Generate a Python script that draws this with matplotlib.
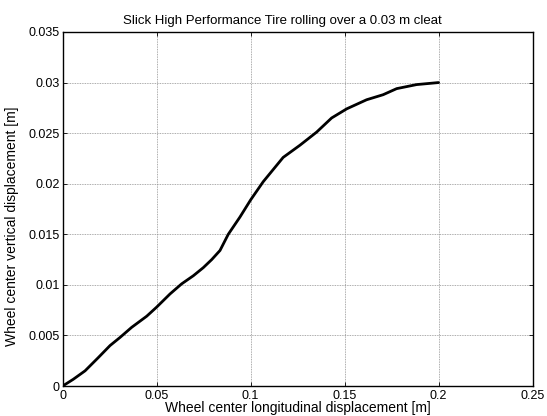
import matplotlib
matplotlib.use("Agg")
import matplotlib.pyplot as plt
import numpy as np

plt.rcParams['font.family'] = ['Liberation Sans', 'DejaVu Sans']

x_disp = [0.0, 0.0056, 0.0119, 0.0189, 0.0252, 0.0305, 0.0367, 0.0447, 0.0500,
          0.0571, 0.0633, 0.0695, 0.0748, 0.0793, 0.0837, 0.0881, 0.0943, 0.1000,
          0.1067, 0.1173, 0.1262, 0.1351, 0.1431, 0.1511, 0.1617, 0.1705, 0.1777,
          0.1883, 0.2000]
y_disp = [0.0, 0.00066, 0.0015, 0.0028, 0.0040, 0.0048, 0.0058, 0.0069, 0.0078,
          0.0091, 0.0101, 0.0109, 0.0117, 0.0125, 0.0134, 0.0150, 0.0167, 0.0184,
          0.0202, 0.0226, 0.0238, 0.0251, 0.0265, 0.0274, 0.0283, 0.0288, 0.0294,
          0.0298, 0.0300]

xticks = [0, 0.05, 0.1, 0.15, 0.2, 0.25]
xticklabels = ['0', '0.05', '0.1', '0.15', '0.2', '0.25']
yticks = [0, 0.005, 0.01, 0.015, 0.02, 0.025, 0.03, 0.035]
yticklabels = ['0', '0.005', '0.01', '0.015', '0.02', '0.025', '0.03', '0.035']

title = 'Slick High Performance Tire rolling over a 0.03 m cleat'
xlabel = 'Wheel center longitudinal displacement [m]'
ylabel = 'Wheel center vertical displacement [m]'

fig = plt.figure(figsize=(5.47, 4.16), dpi=100)
ax = fig.add_axes([0.1146, 0.0721, 0.859, 0.8510])

ax.plot(x_disp, y_disp, color='black', linewidth=2.0,
        solid_joinstyle='round', solid_capstyle='round')

ax.set_xlim(0, 0.25)
ax.set_ylim(0, 0.035)
ax.set_xticks(xticks)
ax.set_xticklabels(xticklabels)
ax.set_yticks(yticks)
ax.set_yticklabels(yticklabels)

ax.grid(True, color='#909090', linestyle=(0, (1, 1)), linewidth=0.6)
ax.tick_params(direction='in', length=3, width=0.6, top=True, right=True,
               labelsize=9, colors='black')
ax.tick_params(axis='x', pad=3)
ax.tick_params(axis='y', pad=2)
for s in ax.spines.values():
    s.set_linewidth(1.0)
    s.set_color('black')

ax.set_title(title, fontsize=9.5, pad=6, x=0.468)
ax.set_xlabel(xlabel, fontsize=10, labelpad=-1)
ax.set_ylabel(ylabel, fontsize=10)
ax.yaxis.set_label_coords(-0.094, 0.45)

fig.savefig('out.png', dpi=100)
